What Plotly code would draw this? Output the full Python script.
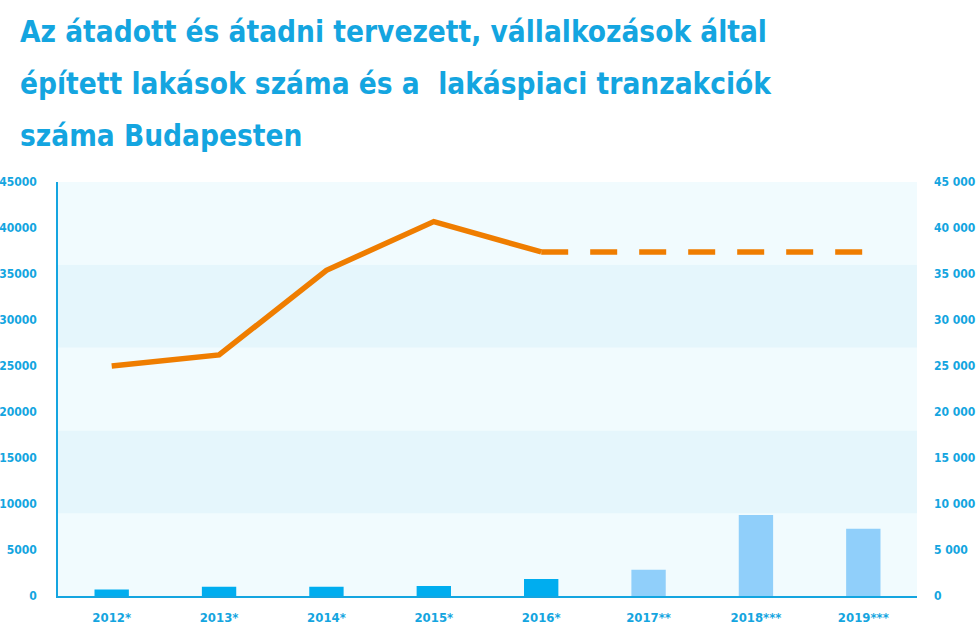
import plotly.graph_objects as go

categories = ["2012*", "2013*", "2014*", "2015*", "2016*", "2017**", "2018***", "2019***"]
bar_values = [700, 1000, 1000, 1100, 1850, 2850, 8800, 7300]
bar_is_forecast = [False, False, False, False, False, True, True, True]
line_actual = [25000, 26200, 35400, 40700, 37400, None, None, None]
line_forecast = [None, None, None, None, 37400, 37400, 37400, 37400]
tick_values = [0, 5000, 10000, 15000, 20000, 25000, 30000, 35000, 40000, 45000]
title_lines = [
    "Az átadott és átadni tervezett, vállalkozások által",
    "épített lakások száma és a  lakáspiaci tranzakciók",
    "száma Budapesten",
]

FONT = "DejaVu Sans Condensed, sans-serif"
CYAN = "#14a5e0"
DARK_BAR = "#00adef"
LIGHT_BAR = "#90cffa"
ORANGE = "#ef7d00"

fig = go.Figure()

fig.add_trace(go.Bar(
    x=categories, y=bar_values, width=0.32,
    marker=dict(color=[LIGHT_BAR if f else DARK_BAR for f in bar_is_forecast], line_width=0),
    showlegend=False, hoverinfo="x+y",
))
fig.add_trace(go.Scatter(
    x=categories, y=line_actual, mode="lines",
    line=dict(color=ORANGE, width=5.5), showlegend=False, yaxis="y2",
))
fig.add_trace(go.Scatter(
    x=categories, y=line_forecast, mode="lines",
    line=dict(color=ORANGE, width=5.5, dash="27px,22px"), showlegend=False, yaxis="y2",
))

# background bands
band = 9000
for i in range(5):
    fig.add_shape(type="rect", xref="paper", yref="y", x0=0, x1=1,
                  y0=i * band, y1=(i + 1) * band,
                  fillcolor="#e5f6fc" if i % 2 else "#f1fbfe",
                  line_width=0, layer="below")

for i, t in enumerate(title_lines):
    fig.add_annotation(text=t, xref="paper", yref="paper", x=0, y=1,
                       xanchor="left", yanchor="top", showarrow=False,
                       xshift=-40, yshift=169 - 52 * i,
                       font=dict(family=FONT, size=29.5, color=CYAN, weight="bold"))

axis_font = dict(family=FONT, size=12, color=CYAN, weight="bold")
fig.update_layout(
    width=979, height=640,
    margin=dict(l=58, r=62, t=182, b=44),
    paper_bgcolor="white", plot_bgcolor="#f1fbfe",
    xaxis=dict(showgrid=False, showline=True, linecolor=CYAN, linewidth=1.5,
               tickfont=dict(family=FONT, size=13, color=CYAN, weight="bold"),
               ticks="", zeroline=False, automargin=False,
               ticklabelstandoff=9),
    yaxis=dict(range=[0, 45000], tickvals=tick_values, tickformat="d",
               showgrid=False, showline=True, linecolor=CYAN, linewidth=1.5,
               zeroline=False, tickfont=axis_font, ticklabelstandoff=17,
               automargin=False),
    yaxis2=dict(range=[0, 45000], overlaying="y", side="right",
                tickvals=tick_values,
                ticktext=[f"{v:,}".replace(",", " ") for v in tick_values],
                showgrid=False, showline=False, zeroline=False,
                tickfont=axis_font, ticklabelstandoff=16, automargin=False),
)

fig.write_html("out.html")
